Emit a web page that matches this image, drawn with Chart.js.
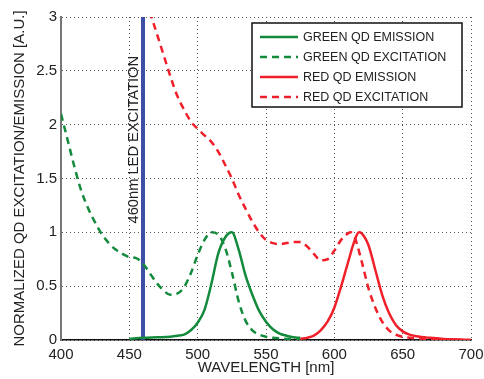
<!DOCTYPE html>
<html lang="en">
<head>
    <meta charset="UTF-8" />
    <title>QD Excitation / Emission</title>
    <script src="https://cdn.jsdelivr.net/npm/chart.js"></script>
    <style>
        html, body { margin: 0; padding: 0; background: #fff; }
        #wrap { width: 484px; height: 379px; }
    </style>
</head>
<body>
    <div id="wrap"><canvas id="qdChart" width="484" height="379"></canvas></div>

    <script>
        // wavelength [nm] / normalized intensity
        const greenExcX = [400, 405, 410, 415, 420, 425, 430, 435, 440, 445, 450, 455, 460, 465, 470, 475, 480, 485, 490, 495, 500, 505, 510, 515, 520, 525, 530, 535, 540, 545, 550, 555, 560, 570, 575];
        const greenExcY = [2.10, 1.85, 1.60, 1.38, 1.22, 1.09, 0.98, 0.90, 0.84, 0.80, 0.77, 0.76, 0.71, 0.62, 0.53, 0.46, 0.42, 0.43, 0.49, 0.62, 0.79, 0.93, 1.00, 0.98, 0.86, 0.63, 0.36, 0.18, 0.09, 0.05, 0.03, 0.02, 0.015, 0.01, 0.01];

        const greenEmX = [450, 460, 470, 480, 485, 490, 495, 500, 505, 510, 515, 520, 525, 530, 535, 540, 545, 550, 555, 560, 565, 570, 575];
        const greenEmY = [0.01, 0.02, 0.025, 0.03, 0.04, 0.05, 0.09, 0.16, 0.28, 0.52, 0.80, 0.95, 1.00, 0.84, 0.60, 0.42, 0.27, 0.17, 0.10, 0.06, 0.04, 0.025, 0.02];

        const redEmX = [575, 580, 585, 590, 595, 600, 605, 610, 615, 618, 620, 625, 630, 635, 640, 645, 650, 655, 660, 670, 680, 690, 700];
        const redEmY = [0.01, 0.02, 0.04, 0.09, 0.17, 0.30, 0.50, 0.72, 0.93, 1.00, 0.99, 0.88, 0.65, 0.42, 0.25, 0.14, 0.08, 0.05, 0.035, 0.02, 0.01, 0.005, 0.0];

        const redExcX = [465, 470, 475, 480, 485, 490, 495, 500, 505, 510, 515, 520, 525, 530, 535, 540, 545, 550, 555, 560, 565, 570, 575, 580, 585, 590, 595, 600, 605, 610, 612, 615, 620, 625, 630, 635, 640, 645, 650, 660, 670, 680, 700];
        const redExcY = [3.05, 2.85, 2.65, 2.45, 2.27, 2.14, 2.03, 1.96, 1.90, 1.84, 1.75, 1.63, 1.50, 1.35, 1.22, 1.10, 1.00, 0.93, 0.90, 0.89, 0.90, 0.91, 0.91, 0.87, 0.80, 0.74, 0.75, 0.83, 0.93, 0.99, 1.00, 0.95, 0.73, 0.48, 0.30, 0.17, 0.09, 0.05, 0.03, 0.015, 0.01, 0.005, 0.0];

        const ledX = [460, 460];
        const ledY = [0, 3];

        const seriesLabels = ['GREEN QD EMISSION', 'GREEN QD EXCITATION', 'RED QD EMISSION', 'RED QD EXCITATION'];
        const ledLabel = '460nm LED EXCITATION';
        const xTicks = [400, 450, 500, 550, 600, 650, 700];
        const yTicks = [0, 0.5, 1, 1.5, 2, 2.5, 3];

        const GREEN = '#138a3c';
        const RED = '#f0202a';
        const BLUE = '#3d4fa3';
        const FONT = '"Liberation Sans", Arial, Helvetica, sans-serif';

        function toPoints(xs, ys) {
            return xs.map((x, i) => ({ x: x, y: ys[i] }));
        }

        function curve(label, xs, ys, color, dashed) {
            return {
                label: label,
                data: toPoints(xs, ys),
                borderColor: color,
                backgroundColor: color,
                borderWidth: 2.5,
                borderDash: dashed ? [7, 5] : [],
                pointRadius: 0,
                cubicInterpolationMode: 'monotone',
                fill: false
            };
        }

        // legend box drawn inside the plot, top right
        const boxLegend = {
            id: 'boxLegend',
            afterDatasetsDraw(chart) {
                const ctx = chart.ctx;
                const area = chart.chartArea;
                const w = 210, h = 84;
                const left = area.right - 9 - w;
                const top = area.top + 6;
                ctx.save();
                ctx.fillStyle = '#fff';
                ctx.fillRect(left, top, w, h);
                ctx.strokeStyle = '#111';
                ctx.lineWidth = 1.5;
                ctx.strokeRect(left, top, w, h);
                ctx.font = '12.5px ' + FONT;
                ctx.textBaseline = 'middle';
                ctx.fillStyle = '#222';
                chart.data.datasets.forEach((ds, i) => {
                    if (i >= seriesLabels.length) return;
                    const y = top + 14 + i * 20;
                    ctx.beginPath();
                    ctx.setLineDash(ds.borderDash);
                    ctx.strokeStyle = ds.borderColor;
                    ctx.lineWidth = 2.5;
                    ctx.moveTo(left + 8, y);
                    ctx.lineTo(left + 46, y);
                    ctx.stroke();
                    ctx.setLineDash([]);
                    ctx.fillText(ds.label, left + 51, y + 0.5);
                });
                ctx.restore();
            }
        };

        // rotated label next to the LED line
        const ledText = {
            id: 'ledText',
            afterDatasetsDraw(chart) {
                const ctx = chart.ctx;
                const x = chart.scales.x.getPixelForValue(ledX[0]) - 9;
                const y = chart.scales.y.getPixelForValue(1.86);
                ctx.save();
                ctx.translate(x, y);
                ctx.rotate(-Math.PI / 2);
                ctx.font = '14.7px ' + FONT;
                ctx.fillStyle = '#222';
                ctx.textAlign = 'center';
                ctx.textBaseline = 'middle';
                ctx.fillText(ledLabel, 0, 0);
                ctx.restore();
            }
        };

        const datasets = [
            curve(seriesLabels[0], greenEmX, greenEmY, GREEN, false),
            curve(seriesLabels[1], greenExcX, greenExcY, GREEN, true),
            curve(seriesLabels[2], redEmX, redEmY, RED, false),
            curve(seriesLabels[3], redExcX, redExcY, RED, true),
            {
                label: ledLabel,
                data: toPoints(ledX, ledY),
                borderColor: BLUE,
                borderWidth: 4,
                pointRadius: 0,
                fill: false
            }
        ];

        const gridStyle = {
            color: '#555',
            lineWidth: 1,
            drawTicks: false
        };

        new Chart(document.getElementById('qdChart').getContext('2d'), {
            type: 'line',
            data: { datasets: datasets },
            options: {
                responsive: false,
                animation: false,
                events: [],
                layout: { padding: { left: 0, right: 13, top: 17, bottom: 0 } },
                plugins: {
                    legend: { display: false },
                    tooltip: { enabled: false }
                },
                scales: {
                    x: {
                        type: 'linear',
                        min: 400,
                        max: 700,
                        afterBuildTicks: (scale) => { scale.ticks = xTicks.map(v => ({ value: v })); },
                        afterFit: (scale) => {
                            scale.height = 39;
                            scale.paddingLeft = 0;
                            scale.paddingRight = 0;
                        },
                        grid: gridStyle,
                        // border.dash sets the dash of the grid lines in v4
                        border: { display: true, color: '#111', width: 1.5, dash: [1, 3] },
                        ticks: {
                            padding: 6,
                            color: '#222',
                            font: { family: FONT, size: 15 },
                            callback: (v) => String(v)
                        },
                        title: {
                            display: true,
                            text: 'WAVELENGTH [nm]',
                            color: '#222',
                            font: { family: FONT, size: 15 },
                            padding: { top: 0, bottom: 2 }
                        }
                    },
                    y: {
                        min: 0,
                        max: 3,
                        afterBuildTicks: (scale) => { scale.ticks = yTicks.map(v => ({ value: v })); },
                        afterFit: (scale) => {
                            scale.width = 61;
                            scale.paddingTop = 0;
                            scale.paddingBottom = 0;
                        },
                        grid: gridStyle,
                        border: { display: true, color: '#777', width: 2, dash: [1, 3] },
                        ticks: {
                            padding: 4,
                            color: '#222',
                            font: { family: FONT, size: 15 },
                            callback: (v) => String(v)
                        },
                        title: {
                            display: true,
                            text: 'NORMALIZED QD EXCITATION/EMISSION [A.U.]',
                            color: '#222',
                            font: { family: FONT, size: 15 },
                            padding: { top: 11, bottom: 0 }
                        }
                    }
                }
            },
            plugins: [ledText, boxLegend]
        });
    </script>
</body>
</html>
